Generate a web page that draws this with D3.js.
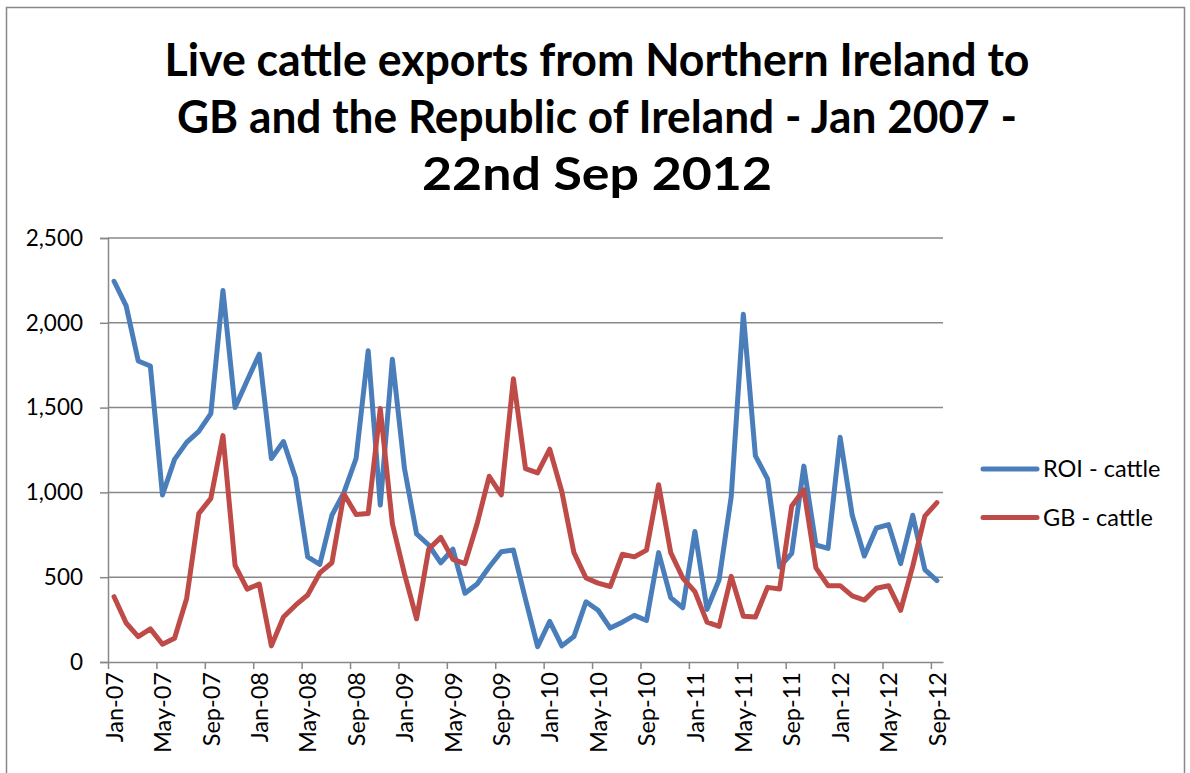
<!DOCTYPE html>
<html>
<head>
<meta charset="utf-8">
<script src="https://cdn.jsdelivr.net/npm/d3@7"></script>
<style>
  body { margin: 0; background: #fff; }
  text { font-family: Lato, "Open Sans", sans-serif; fill: #000; }
</style>
</head>
<body>
<div id="chart"></div>
<script>
var margin = {top: 238, right: 247, bottom: 111, left: 108}

var W = 1190, H = 773;

// monthly values, Jan 2007 .. Sep 2012
var roi = [
  2245, 2100, 1775, 1745, 985, 1195, 1295, 1360, 1465, 2190, 1500, 1660,
  1815, 1200, 1300, 1085, 620, 575, 865, 1000, 1200, 1835, 925, 1785,
  1140, 755, 690, 585, 665, 405, 460, 560, 650, 660, 370, 90,
  240, 95, 150, 355, 305, 200, 235, 275, 245, 645, 380, 320,
  770, 310, 485, 975, 2050, 1215, 1080, 560, 640, 1155, 690, 670,
  1325, 865, 625, 790, 810, 580, 865, 545, 480
];
var gb = [
  385, 230, 150, 195, 105, 140, 375, 875, 965, 1335, 570, 430,
  460, 95, 265, 335, 395, 525, 585, 990, 870, 875, 1495, 815,
  520, 255, 665, 735, 605, 580, 815, 1095, 985, 1670, 1140, 1115,
  1255, 1005, 645, 495, 465, 445, 635, 620, 660, 1045, 645, 495,
  415, 235, 210, 505, 270, 265, 440, 430, 920, 1015, 555, 450,
  450, 390, 365, 435, 450, 305, 565, 860, 940
];
var tickLabels = ["Jan-07", "May-07", "Sep-07", "Jan-08", "May-08", "Sep-08",
  "Jan-09", "May-09", "Sep-09", "Jan-10", "May-10", "Sep-10",
  "Jan-11", "May-11", "Sep-11", "Jan-12", "May-12", "Sep-12"];
var yTicks = [0, 500, 1000, 1500, 2000, 2500];
var seriesNames = ["ROI - cattle", "GB - cattle"];
var seriesColors = ["#4a7ebb", "#be4b48"];
var titleLines = ["Live cattle exports from Northern Ireland to",
  "GB and the Republic of Ireland - Jan 2007 -",
  "22nd Sep 2012"];

var width = W - margin.left - margin.right,
    height = H - margin.top - margin.bottom;

var svg = d3.select("#chart").append("svg")
    .attr("width", W)
    .attr("height", H);

// chart area border
svg.append("rect")
    .attr("x", 6.5).attr("y", 7.5)
    .attr("width", 1178).attr("height", 820)
    .attr("fill", "#fff")
    .attr("stroke", "#888")
    .attr("stroke-width", 1.5);

// title
var titleWidths = [865, 840, 350];
svg.append("g").selectAll("text")
    .data(titleLines)
  .enter().append("text")
    .attr("x", 597)
    .attr("y", function(d, i) { return 76 + i * 57; })
    .attr("text-anchor", "middle")
    .attr("font-size", 45)
    .attr("font-weight", "bold")
    .attr("textLength", function(d, i) { return titleWidths[i]; })
    .attr("lengthAdjust", "spacingAndGlyphs")
    .text(function(d) { return d; });

var g = svg.append("g")
    .attr("transform", "translate(" + margin.left + "," + margin.top + ")");

var xScale = d3.scaleLinear()
    .domain([-0.5, roi.length - 0.5])
    .range([0, width]);

var yScale = d3.scaleLinear()
    .domain([0, 2500])
    .range([height, 0]);

// gridlines
g.append("g")
    .selectAll("line")
    .data(yTicks.slice(1))
  .enter().append("line")
    .attr("x1", 0).attr("x2", width)
    .attr("y1", function(d) { return yScale(d); })
    .attr("y2", function(d) { return yScale(d); })
    .attr("stroke", "#888")
    .attr("stroke-width", 1.5);

// y axis
var yAxis = g.append("g")
    .call(d3.axisLeft(yScale).tickValues(yTicks).tickFormat(d3.format(",")).tickSize(8).tickPadding(17));
yAxis.selectAll("text").attr("font-size", 22.5).style("font-family", "Lato, sans-serif");

// x axis: tick marks between months
var monthTicks = d3.range(0, tickLabels.length).map(function(k) { return k * 4 - 0.5; });
var xAxis = g.append("g")
    .attr("transform", "translate(0," + height + ")")
    .call(d3.axisBottom(xScale).tickValues(monthTicks).tickFormat("").tickSizeInner(7).tickSizeOuter(0));

// x labels, centred on each month
var labelAxis = g.append("g")
    .attr("transform", "translate(0," + height + ")")
    .call(d3.axisBottom(xScale)
      .tickValues(tickLabels.map(function(d, k) { return k * 4; }))
      .tickFormat(function(d) { return tickLabels[d / 4]; })
      .tickSize(0));
labelAxis.select(".domain").remove();
labelAxis.selectAll("text")
    .attr("font-size", 23.5)
    .style("font-family", "Lato, sans-serif")
    .attr("text-anchor", "end")
    .attr("transform", "rotate(-90)")
    .attr("x", -10)
    .attr("y", 0)
    .attr("dy", "0.35em");

svg.selectAll(".domain, .tick line")
    .attr("stroke", "#888")
    .attr("stroke-width", 1.5);

// lines
var line = d3.line()
    .x(function(d, i) { return xScale(i); })
    .y(function(d) { return yScale(d); });

[roi, gb].forEach(function(s, k) {
  g.append("path")
      .datum(s)
      .attr("fill", "none")
      .attr("stroke", seriesColors[k])
      .attr("stroke-width", 5)
      .attr("stroke-linejoin", "round")
      .attr("stroke-linecap", "round")
      .attr("d", line);
});

// legend
var legend = svg.append("g")
    .selectAll("g")
    .data(seriesNames)
  .enter().append("g")
    .attr("transform", function(d, i) { return "translate(983," + (469 + i * 48.5) + ")"; });

legend.append("line")
    .attr("x1", 0).attr("x2", 54)
    .attr("stroke", function(d, i) { return seriesColors[i]; })
    .attr("stroke-width", 5)
    .attr("stroke-linecap", "round");

legend.append("text")
    .attr("x", 60)
    .attr("dy", "0.36em")
    .attr("font-size", 23.5)
    .text(function(d) { return d; });
</script>
</body>
</html>
